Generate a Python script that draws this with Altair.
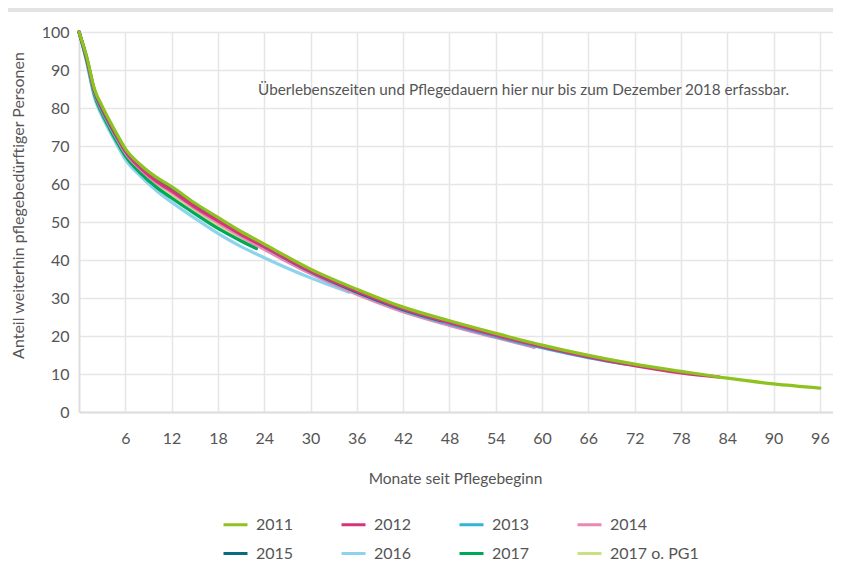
import altair as alt
import pandas as pd

# ---------------- data ----------------
series_order = ["2011", "2012", "2013", "2014", "2015", "2016", "2017", "2017 o. PG1"]
series_colors = ["#8dc21f", "#d5347e", "#2fb4da", "#ea88b4", "#086b80", "#8dd3ec", "#00a859", "#c8e281"]

months_2011 = [0, 1, 2, 3, 4, 5, 6, 8, 10, 12, 15, 18, 21, 24, 30, 36, 42, 48, 54, 60, 66, 72, 78, 84, 90, 96]
values_2011 = [100, 93.5, 85, 80.5, 76.5, 72.8, 69.3, 65.0, 61.8, 59.3, 55.0, 51.2, 47.5, 44.2, 37.6, 32.3, 27.6, 24.0, 20.7, 17.6, 14.9, 12.6, 10.7, 8.9, 7.4, 6.3]

months_2012 = [0, 1, 2, 3, 4, 5, 6, 8, 10, 12, 15, 18, 21, 24, 30, 36, 42, 48, 54, 60, 66, 72, 78, 83]
values_2012 = [100, 93.2, 84.7, 80.0, 76.0, 72.3, 68.7, 64.2, 60.8, 58.2, 54.0, 50.3, 46.7, 43.5, 37.0, 31.8, 27.1, 23.5, 20.2, 17.2, 14.5, 12.2, 10.3, 9.2]

months_2013 = [0, 1, 2, 3, 4, 5, 6, 8, 10, 12, 15, 18, 21, 24, 30, 36, 42, 48, 54, 60, 66, 71]
values_2013 = [100, 93.0, 84.3, 79.5, 75.5, 72.0, 68.6, 64.3, 61.0, 58.6, 54.5, 50.8, 47.0, 43.5, 36.9, 31.5, 26.8, 23.2, 19.9, 16.9, 14.3, 12.5]

months_2014 = [0, 1, 2, 3, 4, 5, 6, 8, 10, 12, 15, 18, 21, 24, 30, 36, 42, 48, 54, 59]
values_2014 = [100, 92.8, 84.0, 79.2, 75.2, 71.6, 68.2, 63.8, 60.4, 57.8, 53.6, 49.8, 46.2, 42.8, 36.4, 31.0, 26.4, 22.8, 19.6, 17.0]

months_2015 = [0, 1, 2, 3, 4, 5, 6, 8, 10, 12, 15, 18, 21, 24, 30, 36, 42, 47]
values_2015 = [100, 93.0, 84.5, 79.8, 75.8, 72.2, 68.8, 64.5, 61.2, 58.8, 54.6, 50.8, 47.0, 43.6, 37.0, 31.6, 27.0, 24.0]

months_2016 = [0, 1, 2, 3, 4, 5, 6, 8, 10, 12, 15, 18, 21, 24, 30, 35]
values_2016 = [100, 92.0, 82.8, 77.8, 73.8, 70.0, 66.5, 62.0, 58.3, 55.2, 51.0, 47.0, 43.5, 40.6, 35.3, 31.5]

months_2017 = [0, 1, 2, 3, 4, 5, 6, 8, 10, 12, 15, 18, 21, 23]
values_2017 = [100, 92.5, 83.5, 78.5, 74.5, 70.8, 67.4, 62.8, 59.2, 56.3, 52.2, 48.3, 45.0, 43.0]

months_2017pg = [0, 1, 2, 3, 4, 5, 6, 8, 10, 12, 15, 18, 21, 23]
values_2017pg = [100, 92.7, 83.8, 78.8, 74.8, 71.2, 67.8, 63.2, 59.6, 56.8, 52.7, 48.8, 45.4, 43.4]

x_ticks = [6, 12, 18, 24, 30, 36, 42, 48, 54, 60, 66, 72, 78, 84, 90, 96]
y_ticks = [0, 10, 20, 30, 40, 50, 60, 70, 80, 90, 100]

note_text = ["Überlebenszeiten und Pflegedauern hier nur bis zum Dezember 2018 erfassbar."]
note_month = [23.2]
note_value = [84.7]

# ---------------- table (drawn last-to-first so 2011 is on top) ----------------
parts = [
    ("2017 o. PG1", months_2017pg, values_2017pg),
    ("2016", months_2016, values_2016),
    ("2017", months_2017, values_2017),
    ("2014", months_2014, values_2014),
    ("2013", months_2013, values_2013),
    ("2015", months_2015, values_2015),
    ("2012", months_2012, values_2012),
    ("2011", months_2011, values_2011),
]
rows = []
for name, ms, vs in parts:
    for m, v in zip(ms, vs):
        rows.append({"series": name, "month": m, "value": v})
df = pd.DataFrame(rows)

FONT = "Lato"
TXT = "#555555"
W, H = 754, 380

x_scale = alt.Scale(domain=[0, 97.7], nice=False, zero=True)
y_scale = alt.Scale(domain=[0, 100], nice=False)

x_axis = alt.Axis(values=x_ticks, title="Monate seit Pflegebeginn",
                  grid=True, gridColor="#e6e6e6", gridWidth=1.6,
                  domainColor="#dddddd", domainWidth=2, ticks=False,
                  labelPadding=18, labelFontSize=16, labelColor=TXT, labelFont=FONT,
                  labelOverlap=False, labelFlush=False,
                  titleFont=FONT, titleFontSize=15.5, titleColor=TXT, titleFontWeight="normal",
                  titleX=376, titleY=66, titleBaseline="middle")
y_axis = alt.Axis(values=y_ticks, tickCount=11, title="Anteil weiterhin pflegebedürftiger Personen",
                  grid=True, gridColor="#e6e6e6", gridWidth=1.6,
                  domainColor="#dddddd", domainWidth=2, ticks=False,
                  labelPadding=10, labelFontSize=16, labelColor=TXT, labelFont=FONT,
                  labelOverlap=False, labelFlush=False,
                  titleFont=FONT, titleFontSize=16, titleColor=TXT, titleFontWeight="normal",
                  titleX=-61, titleY=173, titleBaseline="middle", titleAngle=-90)

lines = alt.Chart(df).mark_line(strokeWidth=3.2, interpolate="monotone", strokeCap="round", strokeJoin="round").encode(
    x=alt.X("month:Q", scale=x_scale, axis=x_axis),
    y=alt.Y("value:Q", scale=y_scale, axis=y_axis),
    color=alt.Color("series:N",
                    scale=alt.Scale(domain=series_order, range=series_colors),
                    sort=series_order,
                    legend=alt.Legend(title=None, orient="none", legendX=143, legendY=479,
                                      columns=4, direction="horizontal",
                                      symbolType="stroke", symbolStrokeWidth=3, symbolSize=576,
                                      labelFont=FONT, labelFontSize=16, labelColor=TXT,
                                      labelOffset=7, columnPadding=41, rowPadding=7)),
)

note = alt.Chart(pd.DataFrame({"t": note_text, "m": note_month, "v": note_value})).mark_text(
    align="left", baseline="middle", font=FONT, fontSize=15.3, color=TXT
).encode(x=alt.X("m:Q", scale=x_scale, axis=x_axis), y=alt.Y("v:Q", scale=y_scale, axis=y_axis), text="t:N")

top_bar = alt.Chart(pd.DataFrame({"a": [0]})).mark_rect(color="#e3e3e3").encode(
    x=alt.value(-71), x2=alt.value(754), y=alt.value(-24), y2=alt.value(-20)
)

chart = alt.layer(top_bar, lines, note).properties(
    width=W, height=H,
    autosize=alt.AutoSizeParams(type="none"),
    padding={"left": 71, "top": 24, "right": 0, "bottom": 148},
    background="white",
).configure_view(stroke=None)

chart.save("out.html", embed_options={"renderer": "svg", "actions": False})
